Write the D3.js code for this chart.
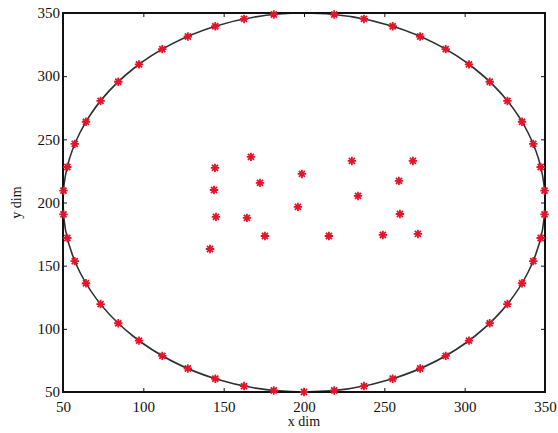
<!DOCTYPE html>
<html>
<head>
<meta charset="utf-8">
<script src="https://cdn.jsdelivr.net/npm/d3@7"></script>
<style>
  body { margin: 0; background: #fff; }
  svg { display: block; }
  .tick text { font-family: "Liberation Serif", serif; font-size: 15px; fill: #111; }
  .label { font-family: "Liberation Serif", serif; font-size: 14px; fill: #111; }
</style>
</head>
<body>
<svg id="chart" width="558" height="433"></svg>
<script>
// x/y limits and tick labels
const xDomain = [50, 350]
const yDomain = [50, 350]
const xTicks = [50, 100, 150, 200, 250, 300, 350]
const yTicks = [50, 100, 150, 200, 250, 300, 350]

// outer ring: centre and radius of the black curve
const ringCenter = [200, 200]
const ringRadius = 150

// red stars sitting on the ring
const ringX = [200, 218.8, 237.3, 255.2, 272.3, 288.2, 302.7, 315.6, 326.6, 335.7, 342.7, 347.3, 349.7,
  349.7, 347.3, 342.7, 335.7, 326.6, 315.6, 302.7, 288.2, 272.3, 255.2, 237.3, 218.8,
  181.2, 162.7, 144.8, 127.7, 111.8, 97.3, 84.4, 73.4, 64.3, 57.3, 52.7, 50.3,
  50.3, 52.7, 57.3, 64.3, 73.4, 84.4, 97.3, 111.8, 127.7, 144.8, 162.7, 181.2]
const ringY = [50, 51.2, 54.7, 60.5, 68.6, 78.6, 90.7, 104.4, 119.6, 136.1, 153.6, 171.9, 190.6,
  209.4, 228.1, 246.4, 263.9, 280.4, 295.6, 309.3, 321.4, 331.4, 339.5, 345.3, 348.8,
  348.8, 345.3, 339.5, 331.4, 321.4, 309.3, 295.6, 280.4, 263.9, 246.4, 228.1, 209.4,
  190.6, 171.9, 153.6, 136.1, 119.6, 104.4, 90.7, 78.6, 68.6, 60.5, 54.7, 51.2]

// red stars in the middle
const innerX = [144.6, 167.0, 172.6, 144.0, 145.2, 164.5, 175.7, 141.5, 198.7,
  196.2, 215.5, 229.8, 233.6, 249.1, 267.8, 259.1, 259.7, 270.9]
const innerY = [227.4, 236.1, 215.5, 209.9, 188.6, 187.8, 173.5, 163.2, 222.6,
  196.5, 173.5, 232.9, 205.2, 174.3, 232.9, 217.1, 190.9, 175.1]

const margin = { top: 13, right: 13, bottom: 41, left: 63 }
const width = 558 - margin.left - margin.right
const height = 433 - margin.top - margin.bottom

const svg = d3.select('#chart')
const g = svg.append('g')
  .attr('transform', `translate(${margin.left},${margin.top})`)

const x = d3.scaleLinear().domain(xDomain).range([0, width])
const y = d3.scaleLinear().domain(yDomain).range([height, 0])

// ticks point inwards on all four sides, like a matlab box
g.append('g')
  .attr('transform', `translate(0,${height})`)
  .call(d3.axisBottom(x).tickValues(xTicks).tickSize(-4).tickPadding(9))
g.append('g')
  .call(d3.axisTop(x).tickValues(xTicks).tickSize(-4).tickFormat(''))
g.append('g')
  .call(d3.axisLeft(y).tickValues(yTicks).tickSize(-4).tickPadding(3))
g.append('g')
  .attr('transform', `translate(${width},0)`)
  .call(d3.axisRight(y).tickValues(yTicks).tickSize(-4).tickFormat(''))

g.selectAll('.domain').remove()
g.selectAll('.tick line').attr('stroke', '#111').attr('stroke-width', 1)

// the ring
g.append('ellipse')
  .attr('cx', x(ringCenter[0]))
  .attr('cy', y(ringCenter[1]))
  .attr('rx', x(ringCenter[0] + ringRadius) - x(ringCenter[0]))
  .attr('ry', y(ringCenter[1]) - y(ringCenter[1] + ringRadius))
  .attr('fill', 'none')
  .attr('stroke', '#2b332e')
  .attr('stroke-width', 1.6)

// axes box
g.append('rect')
  .attr('width', width)
  .attr('height', height)
  .attr('fill', 'none')
  .attr('stroke', '#111')
  .attr('stroke-width', 2)

// matlab '*' marker
const s = 4.2
const d2 = s * 0.72
const star = `M${-s},0H${s}M0,${-s}V${s}M${-d2},${-d2}L${d2},${d2}M${-d2},${d2}L${d2},${-d2}`

const pts = ringX.map((v, i) => [v, ringY[i]])
  .concat(innerX.map((v, i) => [v, innerY[i]]))

g.append('g')
  .selectAll('path')
  .data(pts)
  .enter().append('path')
  .attr('d', star)
  .attr('transform', d => `translate(${x(d[0])},${y(d[1])})`)
  .attr('fill', 'none')
  .attr('stroke', '#e3152b')
  .attr('stroke-width', 1.8)

svg.append('text')
  .attr('class', 'label')
  .attr('x', margin.left + width / 2)
  .attr('y', 426)
  .attr('text-anchor', 'middle')
  .text('x dim')

svg.append('text')
  .attr('class', 'label')
  .attr('transform', `translate(21,${margin.top + height / 2}) rotate(-90)`)
  .attr('text-anchor', 'middle')
  .text('y dim')
</script>
</body>
</html>
